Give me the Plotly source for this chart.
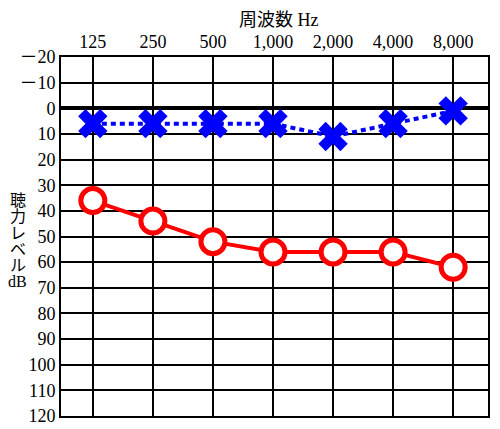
import plotly.graph_objects as go

# audiogram data (dB HL)
FREQ_LABELS = ['125', '250', '500', '1,000', '2,000', '4,000', '8,000']
FREQ_POS = [0, 1, 2, 3, 4, 5, 6]
LEFT_EAR_X = [6, 6, 6, 6, 11, 6, 1]
RIGHT_EAR_O = [36, 44, 52, 56, 56, 56, 62]
DB_TICKS = [-20, -10, 0, 10, 20, 30, 40, 50, 60, 70, 80, 90, 100, 110, 120]
DB_LABELS = ['－20', '－10'] + [str(v) for v in DB_TICKS[2:]]
YTITLE_CHARS = ['聴', '力', 'レ', 'ベ', 'ル', 'dB']

FONT = 'Liberation Serif, DejaVu Serif, Noto Sans CJK JP'

fig = go.Figure()

fig.add_trace(go.Scatter(x=FREQ_POS, y=RIGHT_EAR_O, mode='lines+markers', name='右',
                         line=dict(color='#ff0000', width=4),
                         marker=dict(symbol='circle', size=24, color='white',
                                     line=dict(color='#ff0000', width=5))))

fig.add_trace(go.Scatter(x=FREQ_POS, y=LEFT_EAR_X, mode='lines+markers', name='左',
                         line=dict(color='#0000ff', width=4, dash='5px,4px'),
                         marker=dict(symbol='x', size=26, color='#0000ff', line=dict(width=0))))

fig.update_xaxes(side='top', range=[-0.53, 6.58], tickvals=FREQ_POS, ticktext=FREQ_LABELS,
                 showgrid=True, gridcolor='black', gridwidth=1.5, zeroline=False,
                 showline=True, linecolor='black', linewidth=2, mirror=True, automargin=False,
                 ticks='', tickfont=dict(size=18, color='black', family=FONT))

fig.update_yaxes(range=[120, -20], tickvals=DB_TICKS, ticktext=DB_LABELS,
                 showgrid=True, gridcolor='black', gridwidth=1.5,
                 zeroline=True, zerolinecolor='black', zerolinewidth=3.5,
                 showline=True, linecolor='black', linewidth=2, mirror=True, automargin=False,
                 ticks='', tickfont=dict(size=18, color='black', family=FONT))

fig.add_annotation(text='周波数 Hz', x=0.51, y=1.0, xref='paper', yref='paper',
                   yshift=37, showarrow=False, yanchor='middle',
                   font=dict(size=18, color='black', family=FONT))

# vertical axis title, one glyph per row
for i, ch in enumerate(YTITLE_CHARS):
    fig.add_annotation(text=ch, x=-0.101, y=0.6, xref='paper', yref='paper',
                       yshift=-16.2 * i, showarrow=False, xanchor='center', yanchor='middle',
                       font=dict(size=16, color='black', family=FONT))

# page body has an 8px margin, so the figure is offset by 8px
fig.update_layout(width=500, height=429, showlegend=False,
                  paper_bgcolor='white', plot_bgcolor='white',
                  margin=dict(l=53, r=20, t=49, b=21))

fig.write_html('out.html')
